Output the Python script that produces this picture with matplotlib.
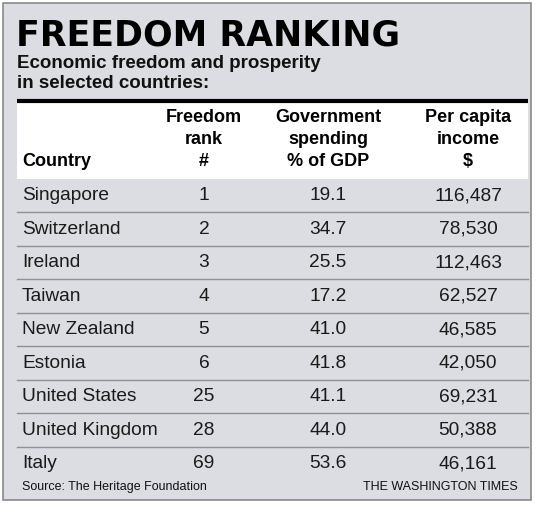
import matplotlib
matplotlib.use("Agg")
import matplotlib.pyplot as plt
from matplotlib.patches import Rectangle

countries = ["Singapore", "Switzerland", "Ireland", "Taiwan", "New Zealand",
             "Estonia", "United States", "United Kingdom", "Italy"]
ranks = ["1", "2", "3", "4", "5", "6", "25", "28", "69"]
spending = ["19.1", "34.7", "25.5", "17.2", "41.0", "41.8", "41.1", "44.0", "53.6"]
income = ["116,487", "78,530", "112,463", "62,527", "46,585", "42,050",
          "69,231", "50,388", "46,161"]

body = "Liberation Sans"

W, H = 537, 511
fig = plt.figure(figsize=(W/100, H/100), dpi=100)
ax = fig.add_axes([0, 0, 1, 1])
ax.set_xlim(0, W); ax.set_ylim(H, 0); ax.axis("off")
fig.patch.set_facecolor("white")
bg = "#dcdde2"
ax.add_patch(Rectangle((3, 3), 528, 497, facecolor=bg, edgecolor="#8a8a8a", lw=1.2))

ax.text(16, 36, "FREEDOM RANKING", fontsize=25, fontweight="heavy", family="DejaVu Sans",
        va="center", ha="left", color="black")
ax.text(17, 63, "Economic freedom and prosperity", fontsize=13.5, fontweight="bold",
        family=body, va="center", color="#111")
ax.text(17, 83, "in selected countries:", fontsize=13.5, fontweight="bold",
        family=body, va="center", color="#111")

L, R = 17, 528
ax.add_patch(Rectangle((L, 101), R-L, 78, facecolor="white", edgecolor="none"))
ax.plot([L, R], [101, 101], color="black", lw=3, solid_capstyle="butt")

cx = [204, 328, 468]
hf = dict(fontsize=13, fontweight="bold", family=body, va="center", ha="center")
ax.text(22, 162, "Country", ha="left", va="center", fontsize=13, fontweight="bold", family=body)
for x, lines in zip(cx, [["Freedom", "rank", "#"],
                         ["Government", "spending", "% of GDP"],
                         ["Per capita", "income", "$"]]):
    for i, t in enumerate(lines):
        ax.text(x, 118 + i*22, t, **hf)

top, rh = 179, 33.5
for i, (c, r, s, inc) in enumerate(zip(countries, ranks, spending, income)):
    y = top + rh*(i + 0.5)
    if i > 0:
        ax.plot([L, R], [top + rh*i]*2, color="#8f9096", lw=1)
    kw = dict(fontsize=13.8, family=body, va="center", color="#1a1a1a")
    ax.text(22, y, c, ha="left", **kw)
    ax.text(cx[0], y, r, ha="center", **kw)
    ax.text(cx[1], y, s, ha="center", **kw)
    ax.text(cx[2], y, inc, ha="center", **kw)

ax.text(22, 487, "Source: The Heritage Foundation", fontsize=9, family=body,
        va="center", ha="left", color="#111")
ax.text(518, 487, "THE WASHINGTON TIMES", fontsize=9, family=body,
        va="center", ha="right", color="#111")

fig.savefig("out.png", dpi=100, facecolor="white")
